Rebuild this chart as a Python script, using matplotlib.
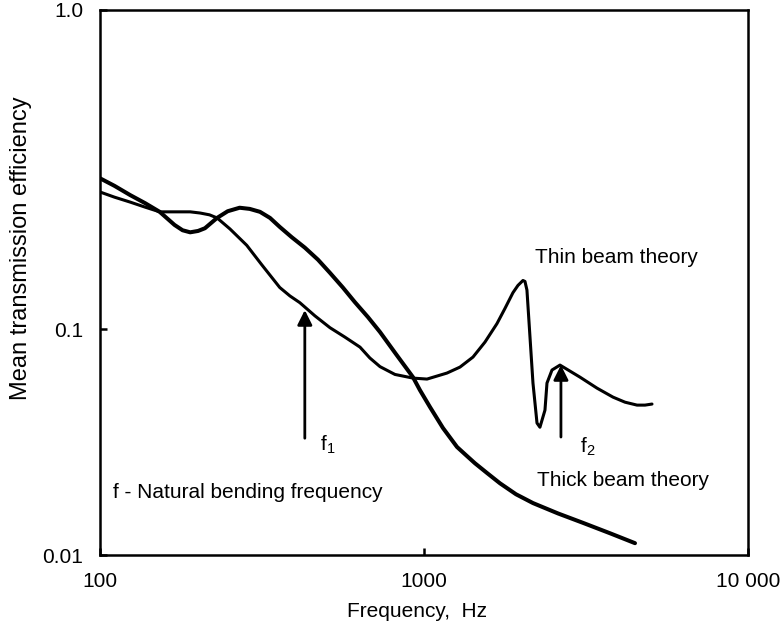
import numpy as np
import matplotlib
matplotlib.use("Agg")
import matplotlib.pyplot as plt
from matplotlib.ticker import FixedLocator, FixedFormatter, NullLocator

plt.rcParams['font.family'] = ['Liberation Sans', 'DejaVu Sans']

# Thin beam theory curve (frequency Hz, mean transmission efficiency)
thin_freq = [100, 111, 124, 138, 153, 170, 190, 204, 218, 230, 252, 284, 316,
             359, 386, 414, 461, 513, 570, 635, 681, 732, 814, 925, 1022, 1178,
             1292, 1417, 1543, 1680, 1778, 1882, 1950, 2021, 2050, 2079, 2170,
             2233, 2280, 2363, 2397, 2484, 2629, 3030, 3420, 3832, 4172, 4545,
             4810, 5055]
thin_eff = [0.269, 0.259, 0.250, 0.241, 0.233, 0.233, 0.233, 0.231, 0.228,
            0.223, 0.206, 0.183, 0.159, 0.135, 0.127, 0.121, 0.110, 0.101,
            0.0922, 0.0832, 0.0745, 0.0682, 0.0630, 0.0607, 0.0601, 0.0639,
            0.0679, 0.0752, 0.0876, 0.104, 0.116, 0.130, 0.137, 0.142, 0.141,
            0.1325, 0.0577, 0.0384, 0.0368, 0.0438, 0.0577, 0.0659, 0.0693,
            0.0613, 0.0548, 0.0500, 0.0475, 0.0461, 0.0461, 0.0466]

# Thick beam theory curve
thick_freq = [100, 111, 124, 138, 153, 170, 180, 190, 201, 211, 230, 248, 270,
              290, 312, 335, 359, 391, 429, 471, 513, 562, 612, 672, 732, 820,
              925, 972, 1044, 1145, 1265, 1348, 1437, 1565, 1716, 1923, 2170,
              2591, 3095, 3751, 4480]
thick_eff = [0.297, 0.281, 0.263, 0.248, 0.233, 0.212, 0.204, 0.201, 0.203,
             0.207, 0.223, 0.234, 0.240, 0.238, 0.233, 0.223, 0.209, 0.194,
             0.180, 0.165, 0.150, 0.135, 0.1215, 0.109, 0.097, 0.0775, 0.0613,
             0.0537, 0.0452, 0.0365, 0.0301, 0.0277, 0.0255, 0.0231, 0.0208,
             0.0186, 0.0170, 0.0153, 0.0139, 0.0125, 0.0113]

# natural bending frequency markers: (freq, tip, tail)
f1 = (429, 0.1147, 0.0329)
f2 = (2647, 0.0693, 0.0333)

x_ticks = [100, 1000, 10000]
x_labels = ['100', '1000', '10 000']
y_ticks = [0.01, 0.1, 1.0]
y_labels = ['0.01', '0.1', '1.0']

# the printed y axis has an upper decade that is stretched relative to the lower one
K = 319 / 226


def fwd(v):
    l = np.log10(np.clip(v, 1e-12, None))
    return np.where(l <= -1, l + 2, 1 + (l + 1) * K)


def inv(u):
    u = np.asarray(u, dtype=float)
    return np.where(u <= 1, 10 ** (u - 2), 10 ** ((u - 1) / K - 1))


fig = plt.figure(figsize=(7.8, 6.21), dpi=100)
ax = fig.add_axes([0.128, 0.106, 0.831, 0.878])

ax.plot(thin_freq, thin_eff, color='black', lw=2.2,
        solid_capstyle='round', solid_joinstyle='round')
ax.plot(thick_freq, thick_eff, color='black', lw=2.9,
        solid_capstyle='round', solid_joinstyle='round')

ax.set_xscale('log')
ax.set_yscale('function', functions=(fwd, inv))
ax.set_xlim(100, 10000)
ax.set_ylim(0.01, 1.0)

ax.xaxis.set_major_locator(FixedLocator(x_ticks))
ax.xaxis.set_major_formatter(FixedFormatter(x_labels))
ax.xaxis.set_minor_locator(NullLocator())
ax.yaxis.set_major_locator(FixedLocator(y_ticks))
ax.yaxis.set_major_formatter(FixedFormatter(y_labels))
ax.yaxis.set_minor_locator(NullLocator())
ax.tick_params(direction='in', length=5, width=1.8, labelsize=15)
ax.tick_params(axis='x', pad=12)
ax.tick_params(axis='y', pad=12)

for s in ax.spines.values():
    s.set_linewidth(1.8)

# arrows for f1 and f2
for f in (f1, f2):
    ax.annotate('', xy=(f[0], f[1]), xytext=(f[0], f[2]),
                arrowprops=dict(arrowstyle='-|>', color='black', lw=2,
                                mutation_scale=22, shrinkA=0, shrinkB=0))

ax.text(477, 0.0307, r'f$_\mathregular{1}$', fontsize=15, va='center')
ax.text(3030, 0.0301, r'f$_\mathregular{2}$', fontsize=15, va='center')

ax.text(2201, 0.167, 'Thin beam theory', fontsize=15, va='center')
ax.text(2234, 0.0215, 'Thick beam theory', fontsize=15, va='center')
ax.text(110, 0.0190, 'f - Natural bending frequency', fontsize=15, va='center')

ax.set_xlabel('Frequency,  Hz', fontsize=15)
ax.xaxis.set_label_coords(0.49, -0.085)
ax.set_ylabel('Mean transmission efficiency', fontsize=17)
ax.yaxis.set_label_coords(-0.104, 0.563)

fig.savefig('out.png', dpi=100)
